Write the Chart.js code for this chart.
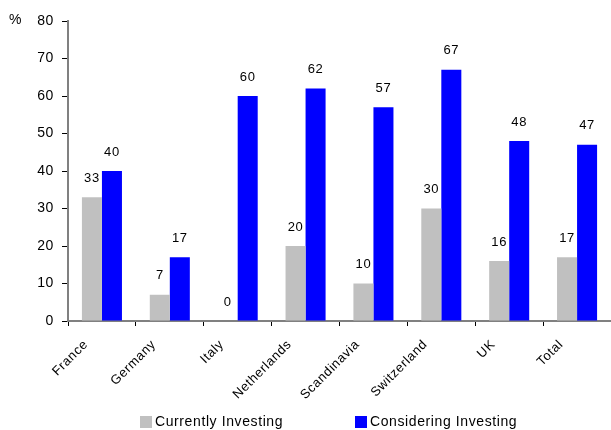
<!DOCTYPE html>
<html>
<head>
<meta charset="UTF-8"/>
<title>Investing by country</title>
<script src="https://cdn.jsdelivr.net/npm/chart.js@4.4.0/dist/chart.umd.min.js"></script>
<style>
  html, body { margin: 0; padding: 0; background: #fff; }
  #wrap { width: 611px; height: 430px; }
</style>
</head>
<body>
<div id="wrap"><canvas id="chart"></canvas></div>
<script>
var countries = ["France", "Germany", "Italy", "Netherlands", "Scandinavia", "Switzerland", "UK", "Total"];
var currentlyInvesting = [33, 7, 0, 20, 10, 30, 16, 17];
var consideringInvesting = [40, 17, 60, 62, 57, 67, 48, 47];
var yTicks = [0, 10, 20, 30, 40, 50, 60, 70, 80];

var FONT = "'Liberation Sans', Arial, sans-serif";

// slightly wider tracking for all canvas text
var spacing = {
  id: "spacing",
  beforeLayout: function(chart) { chart.ctx.letterSpacing = "0.6px"; },
  beforeDraw: function(chart) { chart.ctx.letterSpacing = "0.6px"; }
};

// value above each bar, the "%" unit and the legend row
var extras = {
  id: "extras",
  afterDatasetsDraw: function(chart) {
    var ctx = chart.ctx;
    ctx.save();
    ctx.fillStyle = "#000";
    ctx.font = "13px " + FONT;
    ctx.textAlign = "center";
    ctx.textBaseline = "middle";
    chart.data.datasets.forEach(function(ds, i) {
      chart.getDatasetMeta(i).data.forEach(function(bar, j) {
        ctx.fillText(String(ds.data[j]), bar.x, bar.y - 19);
      });
    });
    ctx.font = "14px " + FONT;
    ctx.textAlign = "left";
    ctx.fillText("%", 9, 20);

    // legend
    var starts = [140, 355];
    ctx.font = "14px " + FONT;
    chart.data.datasets.forEach(function(ds, i) {
      var x = starts[i];
      ctx.fillStyle = ds.backgroundColor;
      ctx.fillRect(x, 416, 12, 12);
      ctx.fillStyle = "#000";
      ctx.fillText(ds.label, x + 15, 422);
    });
    ctx.restore();
  }
};

new Chart(document.getElementById("chart"), {
  type: "bar",
  data: {
    labels: countries,
    datasets: [{
      label: "Currently Investing",
      data: currentlyInvesting,
      backgroundColor: "#c0c0c0",
      barPercentage: 1,
      categoryPercentage: 0.59
    }, {
      label: "Considering Investing",
      data: consideringInvesting,
      backgroundColor: "#0000ff",
      barPercentage: 1,
      categoryPercentage: 0.59
    }]
  },
  options: {
    responsive: true,
    maintainAspectRatio: false,
    animation: false,
    layout: { padding: { top: 21, right: 0, left: 0, bottom: 24 } },
    plugins: {
      tooltip: { enabled: false },
      legend: { display: false }
    },
    scales: {
      x: {
        grid: { display: true, drawOnChartArea: false, offset: true, color: "#000", tickLength: 5 },
        border: { color: "#808080", width: 2 },
        ticks: { color: "#000", font: { family: FONT, size: 13 }, minRotation: 45, maxRotation: 45, labelOffset: -16, padding: 11 },
        afterFit: function(s) { s.height = 85; }
      },
      y: {
        min: 0,
        max: 80,
        afterBuildTicks: function(s) { s.ticks = yTicks.map(function(v) { return { value: v }; }); },
        grid: { display: true, drawOnChartArea: false, color: "#000", tickLength: 6 },
        border: { color: "#808080", width: 2 },
        ticks: { color: "#000", font: { family: FONT, size: 14 }, padding: 8 },
        afterFit: function(s) { s.width = 68; }
      }
    }
  },
  plugins: [spacing, extras]
});
</script>
</body>
</html>
